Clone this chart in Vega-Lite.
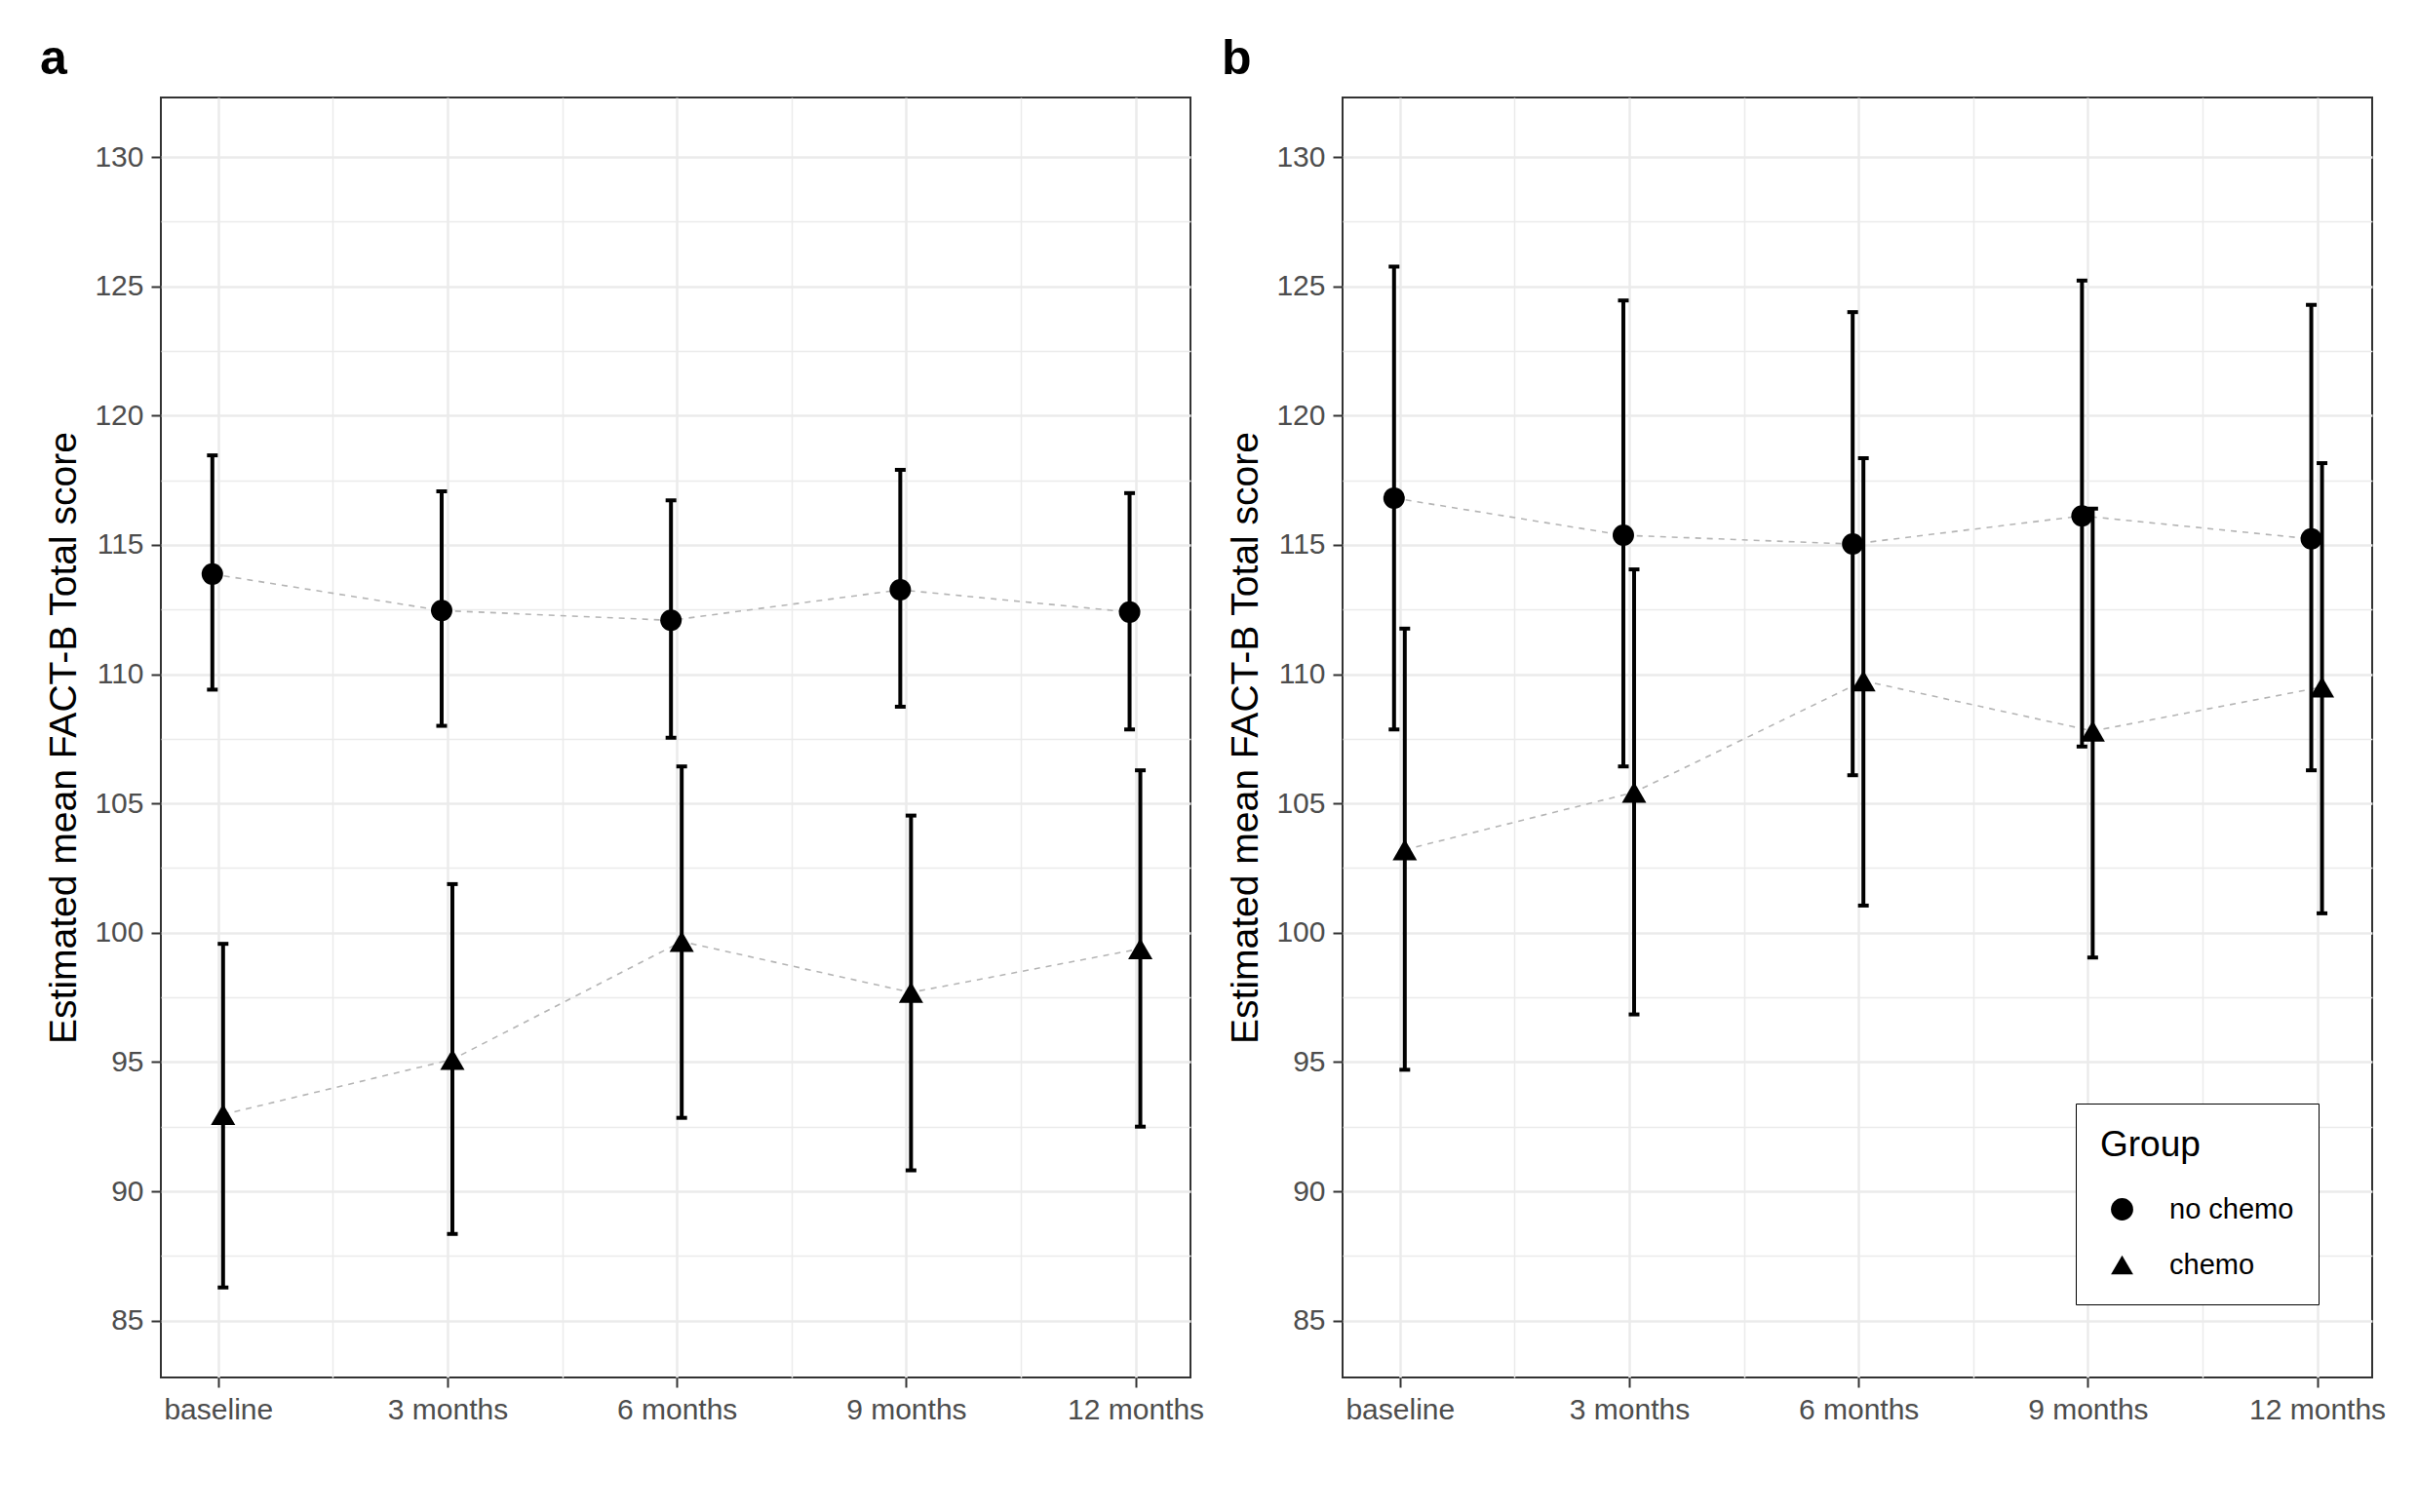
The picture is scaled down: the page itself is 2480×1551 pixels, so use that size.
{
  "$schema": "https://vega.github.io/schema/vega-lite/v6.json",
  "background": "white",
  "padding": {"left": 39, "top": 35, "right": 10, "bottom": 10},
  "config": {
    "font": "Liberation Sans",
    "view": {"stroke": "#333333", "strokeWidth": 2},
    "axis": {
      "labelFont": "Liberation Sans",
      "labelFontSize": 30,
      "labelColor": "#4d4d4d",
      "labelPadding": 8,
      "titleFont": "Liberation Sans",
      "titleFontSize": 39,
      "titleFontWeight": "normal",
      "titleColor": "black",
      "tickColor": "#333333",
      "tickWidth": 2,
      "tickSize": 10,
      "domain": false,
      "gridColor": "#ebebeb",
      "labelOverlap": false,
      "labelFlush": false
    },
    "legend": {
      "titleFont": "Liberation Sans",
      "titleFontSize": 37,
      "titleFontWeight": "normal",
      "titleColor": "black",
      "labelFont": "Liberation Sans",
      "labelFontSize": 29,
      "labelColor": "black"
    }
  },
  "data": {
    "values": [
      {"panel": "a", "group": "no chemo", "month": 0, "estimate": 113.87, "lower": 109.4, "upper": 118.46},
      {"panel": "a", "group": "no chemo", "month": 3, "estimate": 112.46, "lower": 108.0, "upper": 117.07},
      {"panel": "a", "group": "no chemo", "month": 6, "estimate": 112.08, "lower": 107.54, "upper": 116.72},
      {"panel": "a", "group": "no chemo", "month": 9, "estimate": 113.26, "lower": 108.74, "upper": 117.9},
      {"panel": "a", "group": "no chemo", "month": 12, "estimate": 112.4, "lower": 107.86, "upper": 117.0},
      {"panel": "a", "group": "chemo", "month": 0, "estimate": 92.97, "lower": 86.28, "upper": 99.57},
      {"panel": "a", "group": "chemo", "month": 3, "estimate": 95.1, "lower": 88.35, "upper": 101.88},
      {"panel": "a", "group": "chemo", "month": 6, "estimate": 99.66, "lower": 92.84, "upper": 106.43},
      {"panel": "a", "group": "chemo", "month": 9, "estimate": 97.69, "lower": 90.81, "upper": 104.53},
      {"panel": "a", "group": "chemo", "month": 12, "estimate": 99.38, "lower": 92.5, "upper": 106.28},
      {"panel": "b", "group": "no chemo", "month": 0, "estimate": 116.81, "lower": 107.86, "upper": 125.76},
      {"panel": "b", "group": "no chemo", "month": 3, "estimate": 115.37, "lower": 106.43, "upper": 124.45},
      {"panel": "b", "group": "no chemo", "month": 6, "estimate": 115.03, "lower": 106.09, "upper": 124.0},
      {"panel": "b", "group": "no chemo", "month": 9, "estimate": 116.12, "lower": 107.2, "upper": 125.22},
      {"panel": "b", "group": "no chemo", "month": 12, "estimate": 115.23, "lower": 106.28, "upper": 124.28},
      {"panel": "b", "group": "chemo", "month": 0, "estimate": 103.21, "lower": 94.7, "upper": 111.76},
      {"panel": "b", "group": "chemo", "month": 3, "estimate": 105.43, "lower": 96.84, "upper": 114.05},
      {"panel": "b", "group": "chemo", "month": 6, "estimate": 109.74, "lower": 101.05, "upper": 118.35},
      {"panel": "b", "group": "chemo", "month": 9, "estimate": 107.8, "lower": 99.04, "upper": 116.4},
      {"panel": "b", "group": "chemo", "month": 12, "estimate": 109.5, "lower": 100.75, "upper": 118.16}
    ]
  },
  "spacing": 15,
  "resolve": {"legend": {"shape": "independent"}},
  "hconcat": [
    {
      "title": {"text": "a", "anchor": "start", "frame": "bounds", "fontSize": 50, "fontWeight": "bold", "baseline": "alphabetic", "offset": -26, "dx": -6, "color": "black"},
      "width": 1056,
      "height": 1313,
      "transform": [{"filter": "datum.panel === 'a'"}],
      "encoding": {
        "x": {
          "field": "month", "type": "quantitative",
          "scale": {"domain": [-0.75, 12.72], "nice": false, "zero": false},
          "axis": {
            "title": null,
            "values": [0, 1.5, 3, 4.5, 6, 7.5, 9, 10.5, 12],
            "labelExpr": "datum.value === 0 ? 'baseline' : (datum.value % 3 === 0 ? datum.value + ' months' : '')",
            "tickOpacity": {"condition": {"test": "datum.value % 3 !== 0", "value": 0}, "value": 1},
            "gridWidth": {"condition": {"test": "datum.value % 3 !== 0", "value": 1.5}, "value": 2.5}
          }
        }
      },
      "layer": [
        {
          "transform": [{"filter": "datum.group === 'no chemo'"}],
          "mark": {"type": "line", "strokeDash": [6, 6], "color": "#b5b5b5", "strokeWidth": 1.6, "xOffset": -6},
          "encoding": {
            "y": {"field": "estimate", "type": "quantitative",
              "scale": {"domain": [82.8, 132.3], "nice": false, "zero": false},
              "axis": {
                "title": "Estimated mean FACT-B Total score",
                "titlePadding": 11,
                "values": [85, 87.5, 90, 92.5, 95, 97.5, 100, 102.5, 105, 107.5, 110, 112.5, 115, 117.5, 120, 122.5, 125, 127.5, 130],
                "labelExpr": "datum.value % 5 === 0 ? datum.label : ''",
                "tickOpacity": {"condition": {"test": "datum.value % 5 !== 0", "value": 0}, "value": 1},
                "gridWidth": {"condition": {"test": "datum.value % 5 !== 0", "value": 1.5}, "value": 2.5}
              }
            }
          }
        },
        {
          "transform": [{"filter": "datum.group === 'chemo'"}],
          "mark": {"type": "line", "strokeDash": [6, 6], "color": "#b5b5b5", "strokeWidth": 1.6, "xOffset": 5},
          "encoding": {"y": {"field": "estimate", "type": "quantitative"}}
        },
        {
          "transform": [{"filter": "datum.group === 'no chemo'"}],
          "mark": {"type": "rule", "strokeWidth": 4, "color": "black", "xOffset": -6},
          "encoding": {"y": {"field": "lower", "type": "quantitative"}, "y2": {"field": "upper"}}
        },
        {
          "transform": [{"filter": "datum.group === 'chemo'"}],
          "mark": {"type": "rule", "strokeWidth": 4, "color": "black", "xOffset": 5},
          "encoding": {"y": {"field": "lower", "type": "quantitative"}, "y2": {"field": "upper"}}
        },
        {
          "transform": [{"filter": "datum.group === 'no chemo'"}],
          "mark": {"type": "tick", "orient": "horizontal", "size": 11, "thickness": 4, "color": "black", "opacity": 1, "xOffset": -6},
          "encoding": {"y": {"field": "upper", "type": "quantitative"}}
        },
        {
          "transform": [{"filter": "datum.group === 'no chemo'"}],
          "mark": {"type": "tick", "orient": "horizontal", "size": 11, "thickness": 4, "color": "black", "opacity": 1, "xOffset": -6},
          "encoding": {"y": {"field": "lower", "type": "quantitative"}}
        },
        {
          "transform": [{"filter": "datum.group === 'chemo'"}],
          "mark": {"type": "tick", "orient": "horizontal", "size": 11, "thickness": 4, "color": "black", "opacity": 1, "xOffset": 5},
          "encoding": {"y": {"field": "upper", "type": "quantitative"}}
        },
        {
          "transform": [{"filter": "datum.group === 'chemo'"}],
          "mark": {"type": "tick", "orient": "horizontal", "size": 11, "thickness": 4, "color": "black", "opacity": 1, "xOffset": 5},
          "encoding": {"y": {"field": "lower", "type": "quantitative"}}
        },
        {
          "transform": [{"filter": "datum.group === 'no chemo'"}],
          "mark": {"type": "point", "filled": true, "opacity": 1, "color": "black", "size": 484, "xOffset": -6},
          "encoding": {
            "y": {"field": "estimate", "type": "quantitative"},
            "shape": {"field": "group", "type": "nominal",
              "scale": {"domain": ["no chemo", "chemo"], "range": ["circle", "triangle-up"]},
              "legend": null}
          }
        },
        {
          "transform": [{"filter": "datum.group === 'chemo'"}],
          "mark": {"type": "point", "filled": true, "opacity": 1, "color": "black", "size": 625, "xOffset": 5},
          "encoding": {
            "y": {"field": "estimate", "type": "quantitative"},
            "shape": {"field": "group", "type": "nominal", "legend": null}
          }
        }
      ]
    },
    {
      "title": {"text": "b", "anchor": "start", "frame": "bounds", "fontSize": 50, "fontWeight": "bold", "baseline": "alphabetic", "offset": -26, "dx": -6, "color": "black"},
      "width": 1056,
      "height": 1313,
      "transform": [{"filter": "datum.panel === 'b'"}],
      "encoding": {
        "x": {
          "field": "month", "type": "quantitative",
          "scale": {"domain": [-0.75, 12.72], "nice": false, "zero": false},
          "axis": {
            "title": null,
            "values": [0, 1.5, 3, 4.5, 6, 7.5, 9, 10.5, 12],
            "labelExpr": "datum.value === 0 ? 'baseline' : (datum.value % 3 === 0 ? datum.value + ' months' : '')",
            "tickOpacity": {"condition": {"test": "datum.value % 3 !== 0", "value": 0}, "value": 1},
            "gridWidth": {"condition": {"test": "datum.value % 3 !== 0", "value": 1.5}, "value": 2.5}
          }
        }
      },
      "layer": [
        {
          "transform": [{"filter": "datum.group === 'no chemo'"}],
          "mark": {"type": "line", "strokeDash": [6, 6], "color": "#b5b5b5", "strokeWidth": 1.6, "xOffset": -6},
          "encoding": {
            "y": {"field": "estimate", "type": "quantitative",
              "scale": {"domain": [82.8, 132.3], "nice": false, "zero": false},
              "axis": {
                "title": "Estimated mean FACT-B Total score",
                "titlePadding": 11,
                "values": [85, 87.5, 90, 92.5, 95, 97.5, 100, 102.5, 105, 107.5, 110, 112.5, 115, 117.5, 120, 122.5, 125, 127.5, 130],
                "labelExpr": "datum.value % 5 === 0 ? datum.label : ''",
                "tickOpacity": {"condition": {"test": "datum.value % 5 !== 0", "value": 0}, "value": 1},
                "gridWidth": {"condition": {"test": "datum.value % 5 !== 0", "value": 1.5}, "value": 2.5}
              }
            }
          }
        },
        {
          "transform": [{"filter": "datum.group === 'chemo'"}],
          "mark": {"type": "line", "strokeDash": [6, 6], "color": "#b5b5b5", "strokeWidth": 1.6, "xOffset": 5},
          "encoding": {"y": {"field": "estimate", "type": "quantitative"}}
        },
        {
          "transform": [{"filter": "datum.group === 'no chemo'"}],
          "mark": {"type": "rule", "strokeWidth": 4, "color": "black", "xOffset": -6},
          "encoding": {"y": {"field": "lower", "type": "quantitative"}, "y2": {"field": "upper"}}
        },
        {
          "transform": [{"filter": "datum.group === 'chemo'"}],
          "mark": {"type": "rule", "strokeWidth": 4, "color": "black", "xOffset": 5},
          "encoding": {"y": {"field": "lower", "type": "quantitative"}, "y2": {"field": "upper"}}
        },
        {
          "transform": [{"filter": "datum.group === 'no chemo'"}],
          "mark": {"type": "tick", "orient": "horizontal", "size": 11, "thickness": 4, "color": "black", "opacity": 1, "xOffset": -6},
          "encoding": {"y": {"field": "upper", "type": "quantitative"}}
        },
        {
          "transform": [{"filter": "datum.group === 'no chemo'"}],
          "mark": {"type": "tick", "orient": "horizontal", "size": 11, "thickness": 4, "color": "black", "opacity": 1, "xOffset": -6},
          "encoding": {"y": {"field": "lower", "type": "quantitative"}}
        },
        {
          "transform": [{"filter": "datum.group === 'chemo'"}],
          "mark": {"type": "tick", "orient": "horizontal", "size": 11, "thickness": 4, "color": "black", "opacity": 1, "xOffset": 5},
          "encoding": {"y": {"field": "upper", "type": "quantitative"}}
        },
        {
          "transform": [{"filter": "datum.group === 'chemo'"}],
          "mark": {"type": "tick", "orient": "horizontal", "size": 11, "thickness": 4, "color": "black", "opacity": 1, "xOffset": 5},
          "encoding": {"y": {"field": "lower", "type": "quantitative"}}
        },
        {
          "transform": [{"filter": "datum.group === 'no chemo'"}],
          "mark": {"type": "point", "filled": true, "opacity": 1, "color": "black", "size": 484, "xOffset": -6},
          "encoding": {
            "y": {"field": "estimate", "type": "quantitative"},
            "shape": {"field": "group", "type": "nominal",
              "scale": {"domain": ["no chemo", "chemo"], "range": ["circle", "triangle-up"]},
              "legend": {
                "title": "Group",
                "orient": "none",
                "legendX": 752,
                "legendY": 1032,
                "padding": 25,
                "titlePadding": 32,
                "rowPadding": 27,
                "labelOffset": 34,
                "symbolOffset": 8,
                "symbolSize": 520,
                "symbolFillColor": "black",
                "symbolStrokeColor": "black",
                "strokeColor": "black",
                "fillColor": "white"
              }
            }
          }
        },
        {
          "transform": [{"filter": "datum.group === 'chemo'"}],
          "mark": {"type": "point", "filled": true, "opacity": 1, "color": "black", "size": 625, "xOffset": 5},
          "encoding": {
            "y": {"field": "estimate", "type": "quantitative"},
            "shape": {"field": "group", "type": "nominal"}
          }
        }
      ]
    }
  ]
}
